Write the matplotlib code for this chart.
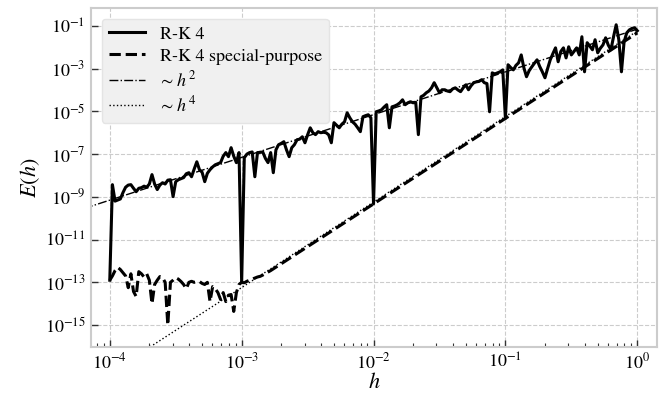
import numpy as np
import matplotlib.pyplot as plt
from matplotlib.ticker import NullLocator, LogLocator

plt.switch_backend('Agg')

plt.rcParams['font.family'] = 'STIXGeneral'
plt.rcParams['mathtext.fontset'] = 'stix'

# step sizes: 50 per decade from 1e-4 to 1
h = np.logspace(-4, 0, 201)

# log10 of the error, R-K 4
rk4_log = [
    -12.9, -8.43, -9.2, -9.15, -9.1, -8.8, -8.55, -8.45, -8.43, -8.6,
    -8.76, -8.6, -8.57, -8.5, -8.55, -8.4, -7.96, -8.4, -8.66, -8.45,
    -8.34, -8.4, -8.22, -8.2, -8.99, -8.29, -8.2, -8.15, -8.1, -7.92,
    -7.87, -8.06, -7.7, -7.36, -7.73, -7.85, -8.29, -7.9, -7.73, -7.6,
    -7.5, -7.45, -7.4, -7.1, -6.93, -7.12, -6.7, -7.1, -7.4, -6.93,
    -13.0, -7.17, -7.0, -6.93, -6.9, -8.06, -6.93, -6.92, -6.9, -7.2,
    -7.4, -6.93, -7.87, -6.8, -6.56, -6.5, -6.42, -6.8, -7.12, -6.7,
    -6.56, -6.33, -6.3, -6.19, -6.47, -6.1, -5.77, -6.0, -6.09, -5.95,
    -6.0, -5.98, -6.0, -6.1, -6.47, -5.53, -5.65, -5.77, -5.6, -5.49,
    -5.07, -5.3, -5.49, -5.6, -5.77, -5.95, -5.25, -5.2, -5.16, -5.3,
    -9.33, -5.02, -4.98, -4.93, -4.8, -4.69, -5.77, -4.79, -4.75, -4.69,
    -4.6, -4.46, -4.69, -4.6, -4.55, -4.6, -4.58, -6.09, -4.32, -4.25,
    -4.13, -4.05, -3.9, -3.66, -3.9, -4.13, -3.99, -3.99, -4.05, -4.08,
    -3.95, -3.9, -4.0, -4.08, -3.9, -3.76, -3.99, -3.8, -3.66, -3.62,
    -3.6, -3.52, -3.66, -3.7, -5.02, -3.2, -3.25, -3.2, -3.15, -3.06,
    -5.33, -2.82, -2.95, -3.06, -2.85, -2.73, -2.36, -2.96, -3.38, -3.1,
    -2.92, -2.75, -2.59, -2.9, -3.15, -3.43, -3.0, -2.59, -2.3, -2.03,
    -2.68, -2.2, -2.03, -2.5, -1.98, -2.36, -2.2, -2.03, -2.36, -1.51,
    -3.15, -1.79, -1.95, -2.12, -1.65, -2.26, -2.05, -1.89, -1.56, -1.9,
    -2.12, -1.51, -0.95, -1.65, -3.15, -1.75, -1.33, -1.19, -1.12, -1.09,
    -1.23,
]

# log10 of the error, R-K 4 special-purpose
special_log = [
    -12.9, -12.7, -12.45, -12.3, -12.4, -12.55, -12.7, -13.25, -12.6, -13.43,
    -13.66, -12.5, -12.6, -12.75, -12.6, -12.9, -14.0, -13.1, -12.9, -12.73,
    -12.78, -13.0, -15.0, -13.0, -12.9, -12.78, -12.85, -12.96, -13.1, -13.3,
    -13.0, -12.95, -13.0, -12.98, -12.96, -13.05, -13.1, -13.0, -13.9, -13.2,
    -13.3, -13.48, -13.8, -13.48, -13.9, -13.6, -13.57, -14.36, -13.48, -13.1,
    -13.0, -13.02, -12.95, -12.9, -12.85, -12.8, -12.75, -12.72, -12.66, -12.59,
    -12.52, -12.45, -12.37, -12.29, -12.21, -12.13, -12.05, -11.97, -11.89, -11.81,
    -11.73, -11.65, -11.57, -11.49, -11.41, -11.33, -11.25, -11.17, -11.09, -11.01,
    -10.93, -10.85, -10.77, -10.69, -10.61, -10.53, -10.45, -10.37, -10.29, -10.21,
    -10.13, -10.05, -9.97, -9.89, -9.81, -9.73, -9.65, -9.57, -9.49, -9.41,
    -9.33, -9.25, -9.17, -9.09, -9.01, -8.93, -8.85, -8.77, -8.69, -8.61,
    -8.53, -8.45, -8.37, -8.29, -8.21, -8.13, -8.05, -7.97, -7.89, -7.81,
    -7.73, -7.65, -7.57, -7.49, -7.41, -7.33, -7.25, -7.17, -7.09, -7.01,
    -6.93, -6.85, -6.77, -6.69, -6.61, -6.53, -6.45, -6.37, -6.29, -6.21,
    -6.13, -6.05, -5.97, -5.89, -5.81, -5.73, -5.65, -5.57, -5.49, -5.41,
    -5.33, -5.25, -5.17, -5.09, -5.01, -4.93, -4.85, -4.77, -4.69, -4.61,
    -4.53, -4.45, -4.37, -4.29, -4.21, -4.13, -4.05, -3.97, -3.89, -3.81,
    -3.73, -3.65, -3.57, -3.49, -3.41, -3.33, -3.25, -3.17, -3.09, -3.01,
    -2.93, -2.85, -2.77, -2.69, -2.61, -2.53, -2.45, -2.37, -2.29, -2.21,
    -2.13, -2.05, -1.97, -1.89, -1.81, -1.73, -1.65, -1.57, -1.49, -1.41,
    -1.33,
]

# reference slopes
h_ref = np.array([5e-5, 1.0])
c2 = 0.07
c4 = 0.057

rk4 = 10.0 ** np.array(rk4_log)
special = 10.0 ** np.array(special_log)

fig = plt.figure(figsize=(6.64, 3.94), dpi=100)
ax = fig.add_axes([0.137, 0.119, 0.853, 0.861])

ax.loglog(h, rk4, '-', color='black', lw=2.2, label='R-K 4')
ax.loglog(h, special, '--', color='black', lw=2.2, label='R-K 4 special-purpose')
ax.loglog(h_ref, c2 * h_ref**2, '-.', color='black', lw=1.0, label='∼ $h^2$')
ax.loglog(h_ref, c4 * h_ref**4, ':', color='black', lw=1.0, label='∼ $h^4$')

ax.set_xlim(7.2e-5, 1.42)
ax.set_ylim(10**-16.03, 10**-0.16)
ax.set_yticks([10.0**k for k in range(-15, 0, 2)])
ax.yaxis.set_minor_locator(NullLocator())
ax.xaxis.set_minor_locator(LogLocator(base=10, subs=np.arange(2, 10)))

ax.set_xlabel(r'$h$', fontsize=16, labelpad=0)
ax.set_ylabel(r'$E(h)$', fontsize=16, labelpad=2)

ax.grid(True, which='major', linestyle='--', color='#cccccc', lw=0.8)
for s in ax.spines.values():
    s.set_color('#cccccc')
    s.set_linewidth(1.5)
ax.tick_params(which='both', direction='in', labelsize=13, colors='#333333')
ax.tick_params(which='major', length=5, width=1, pad=4)
ax.tick_params(which='minor', length=3, width=0.8)
ax.tick_params(labelcolor='black')

leg = ax.legend(loc='upper left', fontsize=13, facecolor='#f0f0f0',
                edgecolor='#e4e4e4', framealpha=1.0, handlelength=2.0,
                labelspacing=0.3, borderaxespad=0.6)

fig.savefig('out.png', dpi=100)
